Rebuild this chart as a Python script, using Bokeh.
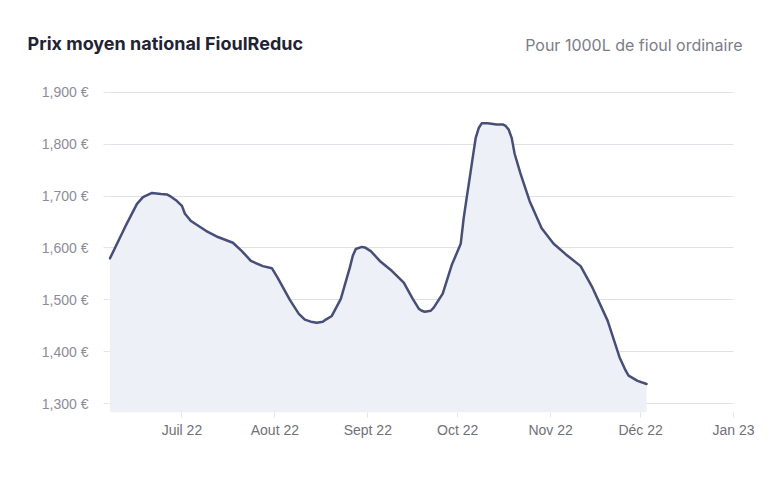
import pandas as pd
from bokeh.plotting import figure
from bokeh.models import FixedTicker, Range1d, Label
from bokeh.embed import file_html
from bokeh.resources import INLINE

# ---- data ----
dates = ["2022-06-07", "2022-06-12", "2022-06-16", "2022-06-18", "2022-06-21", "2022-06-24",
         "2022-06-26", "2022-06-27", "2022-06-29", "2022-07-01", "2022-07-02", "2022-07-04",
         "2022-07-09", "2022-07-13", "2022-07-18", "2022-07-21", "2022-07-24", "2022-07-28",
         "2022-07-31", "2022-08-02", "2022-08-06", "2022-08-09", "2022-08-11", "2022-08-13",
         "2022-08-15", "2022-08-17", "2022-08-18", "2022-08-20", "2022-08-23", "2022-08-26",
         "2022-08-27", "2022-08-28", "2022-08-30", "2022-08-31", "2022-09-02", "2022-09-05",
         "2022-09-09", "2022-09-13", "2022-09-16", "2022-09-18", "2022-09-19", "2022-09-20",
         "2022-09-22", "2022-09-23", "2022-09-26", "2022-09-29", "2022-10-02", "2022-10-03",
         "2022-10-04", "2022-10-05", "2022-10-06", "2022-10-07", "2022-10-08", "2022-10-09",
         "2022-10-11", "2022-10-14", "2022-10-16", "2022-10-17", "2022-10-18", "2022-10-19",
         "2022-10-20", "2022-10-22", "2022-10-25", "2022-10-29", "2022-11-02", "2022-11-06",
         "2022-11-11", "2022-11-15", "2022-11-20", "2022-11-24", "2022-11-26", "2022-11-27",
         "2022-11-30", "2022-12-03"]
prices = [1580, 1640, 1685, 1698, 1706, 1704,
          1703, 1700, 1692, 1681, 1666, 1652,
          1633, 1621, 1610, 1594, 1575, 1565,
          1561, 1542, 1500, 1473, 1462, 1458,
          1456, 1458, 1462, 1469, 1502, 1562,
          1585, 1598, 1602, 1601, 1594, 1575,
          1556, 1533, 1502, 1483, 1479, 1477,
          1479, 1485, 1512, 1567, 1608, 1658,
          1697, 1735, 1774, 1812, 1831, 1840,
          1840, 1838, 1838, 1835, 1828, 1812,
          1781, 1742, 1690, 1638, 1608, 1588,
          1565, 1523, 1460, 1389, 1364, 1354,
          1344, 1338]

x_tick_dates = ["2022-07-01", "2022-08-01", "2022-09-01", "2022-10-01", "2022-11-01", "2022-12-01", "2023-01-01"]
x_tick_labels = ["Juil 22", "Aout 22", "Sept 22", "Oct 22", "Nov 22", "Déc 22", "Jan 23"]
y_ticks = [1300, 1400, 1500, 1600, 1700, 1800, 1900]
y_tick_labels = ["1,300 €", "1,400 €", "1,500 €", "1,600 €", "1,700 €", "1,800 €", "1,900 €"]

title_text = "Prix moyen national FioulReduc"
subtitle_text = "Pour 1000L de fioul ordinaire"

x = pd.to_datetime(dates)
y_start, y_end = 1283, 1911

p = figure(width=768, height=479, x_axis_type="datetime", output_backend="svg",
           toolbar_location=None, min_border_left=108, min_border_right=35,
           min_border_top=86, min_border_bottom=67)
p.x_range = Range1d(pd.Timestamp("2022-06-06 12:00"), pd.Timestamp("2023-01-01"))
p.y_range = Range1d(y_start, y_end)

p.varea(x=x, y1=y_start, y2=prices, fill_color="#eef0f7")
p.line(x=x, y=prices, line_color="#474f78", line_width=2.5, line_join="round", line_cap="round")

tick_ms = [pd.Timestamp(d).value / 1e6 for d in x_tick_dates]
p.xaxis.ticker = FixedTicker(ticks=tick_ms)
p.xaxis.major_label_overrides = {t: l for t, l in zip(tick_ms, x_tick_labels)}
p.yaxis.ticker = FixedTicker(ticks=y_ticks)
p.yaxis.major_label_overrides = {t: l for t, l in zip(y_ticks, y_tick_labels)}

for ax in (p.xaxis, p.yaxis):
    ax.axis_line_color = None
    ax.minor_tick_line_color = None
    ax.major_tick_line_color = "#e3e4ec"
    ax.major_tick_in = 0
    ax.major_tick_out = 5
    ax.major_label_text_font = "Liberation Sans"
    ax.major_label_text_font_size = "14px"
p.yaxis.major_label_text_color = "#8c8c99"
p.xaxis.major_label_text_color = "#707078"
p.yaxis.major_label_standoff = 15
p.xaxis.major_label_standoff = 4

p.xgrid.grid_line_color = None
p.ygrid.grid_line_color = "#dfe0e8"
p.ygrid.grid_line_width = 1
p.outline_line_color = None
p.background_fill_color = "white"
p.border_fill_color = "white"

# title + subtitle in the panel above the frame
p.add_layout(Label(x=-81, y=43, x_units="screen", y_units="screen", text=title_text,
                   text_font="Inter", text_font_size="18px", text_font_style="bold",
                   text_color="#1f2333", text_baseline="middle", text_align="left"), "above")
p.add_layout(Label(x=634, y=21, x_units="screen", y_units="screen", text=subtitle_text,
                   text_font="Inter", text_font_size="16px", text_color="#7c7c88",
                   text_baseline="middle", text_align="right"), "above")

open("out.html", "w").write(file_html(p, INLINE))
